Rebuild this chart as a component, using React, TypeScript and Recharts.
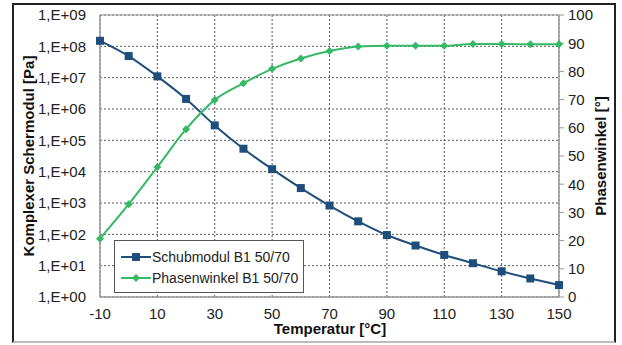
import React from 'react';
import {
  ComposedChart, Line, XAxis, YAxis, CartesianGrid, ReferenceArea,
} from 'recharts';

const temperatures = [-10, 0, 10, 20, 30, 40, 50, 60, 70, 80, 90, 100, 110, 120, 130, 140, 150];
const schubmodul = [1.5e8, 4.9e7, 1.1e7, 2.1e6, 3.0e5, 5.4e4, 1.2e4, 3.0e3, 8.3e2, 2.6e2, 95, 44, 22, 12, 6.6, 3.9, 2.4];
const phasenwinkel = [20.7, 32.9, 46.1, 59.5, 69.9, 75.8, 80.9, 84.6, 87.2, 88.8, 89.1, 89.1, 89.1, 89.7, 89.7, 89.6, 89.6];

const xTicks = [-10, 10, 30, 50, 70, 90, 110, 130, 150];
const logTicks = [1, 1e1, 1e2, 1e3, 1e4, 1e5, 1e6, 1e7, 1e8, 1e9];
const angleTicks = [0, 10, 20, 30, 40, 50, 60, 70, 80, 90, 100];

const BLUE = '#1f4e7c';
const GREEN = '#35b964';

const data = temperatures.map((t, i) => ({
  t,
  modul: schubmodul[i],
  winkel: phasenwinkel[i],
}));

const fmtLog = (v: number) => {
  const e = Math.round(Math.log10(v));
  return `1,E+${e < 10 ? '0' + e : e}`;
};

const Square = (props: any) => {
  const { cx, cy } = props;
  if (cx == null || cy == null) return null;
  return <rect x={cx - 4} y={cy - 4} width={8} height={8} fill={BLUE} />;
};

const Diamond = (props: any) => {
  const { cx, cy } = props;
  if (cx == null || cy == null) return null;
  return <polygon points={`${cx},${cy - 4} ${cx + 4},${cy} ${cx},${cy + 4} ${cx - 4},${cy}`} fill={GREEN} />;
};

const tickStyle = { fill: '#222', fontSize: 15, fontFamily: 'Liberation Sans, Arial, sans-serif' };
const titleStyle: React.CSSProperties = {
  position: 'absolute', whiteSpace: 'nowrap', fontWeight: 'bold', fontSize: 15, color: '#111', lineHeight: '16px',
};

export default function App() {
  return (
    <div style={{ position: 'fixed', left: 0, top: 0, width: 622, height: 345, background: '#fff', fontFamily: 'Liberation Sans, Arial, sans-serif' }}>
      <div style={{ position: 'absolute', left: 12, top: 3, width: 604, height: 340, border: '2px solid #222', borderBottomColor: '#bbb', boxSizing: 'border-box' }} />
      <ComposedChart width={622} height={345} data={data} margin={{ top: 15, right: 5, bottom: 20, left: 12 }}>
        <CartesianGrid yAxisId="left" stroke="#555" strokeDasharray="2 2" />
        <XAxis
          dataKey="t"
          type="number"
          domain={[-10, 150]}
          ticks={xTicks}
          tick={tickStyle}
          tickLine={false}
          axisLine={{ stroke: '#999' }}
          height={28}
          tickMargin={5}
        />
        <YAxis
          yAxisId="left"
          scale="log"
          domain={[1, 1e9]}
          ticks={logTicks}
          tickFormatter={fmtLog}
          tick={tickStyle}
          tickLine={false}
          tickMargin={8}
          axisLine={{ stroke: '#999' }}
          width={88}
          allowDataOverflow
        />
        <YAxis
          yAxisId="right"
          orientation="right"
          domain={[0, 100]}
          ticks={angleTicks}
          tick={tickStyle}
          tickLine={{ stroke: '#999' }}
          tickSize={5}
          tickMargin={4}
          axisLine={{ stroke: '#999' }}
          width={58}
        />
        <ReferenceArea yAxisId="left" x1={-10} x2={150} y1={1} y2={1e9} fill="none" stroke="#999" strokeWidth={1} />
        <Line
          yAxisId="left"
          dataKey="modul"
          type="monotone"
          stroke={BLUE}
          strokeWidth={2}
          dot={<Square />}
          activeDot={false}
          isAnimationActive={false}
        />
        <Line
          yAxisId="right"
          dataKey="winkel"
          type="monotone"
          stroke={GREEN}
          strokeWidth={2}
          dot={<Diamond />}
          activeDot={false}
          isAnimationActive={false}
        />
      </ComposedChart>
      <div style={{ ...titleStyle, left: 29, top: 156, transform: 'translate(-50%, -50%) rotate(-90deg)' }}>
        Komplexer Schermodul [Pa]
      </div>
      <div style={{ ...titleStyle, left: 601, top: 156, transform: 'translate(-50%, -50%) rotate(-90deg)' }}>
        Phasenwinkel [°]
      </div>
      <div style={{ ...titleStyle, left: 330, top: 329, transform: 'translate(-50%, -50%)' }}>
        Temperatur [°C]
      </div>
      <div style={{ position: 'absolute', left: 114, top: 240, width: 190, height: 53, boxSizing: 'border-box', border: '1px solid #555', background: '#fff', fontSize: 14, color: '#222', padding: '5px 0 0 6px', whiteSpace: 'nowrap' }}>
        <div style={{ display: 'flex', alignItems: 'center', height: 21 }}>
          <svg width={30} height={10} style={{ flexShrink: 0 }}>
            <line x1={0} y1={5} x2={30} y2={5} stroke={BLUE} strokeWidth={2} />
            <rect x={11} y={1} width={8} height={8} fill={BLUE} />
          </svg>
          <span style={{ marginLeft: 1 }}>Schubmodul B1 50/70</span>
        </div>
        <div style={{ display: 'flex', alignItems: 'center', height: 21 }}>
          <svg width={30} height={10} style={{ flexShrink: 0 }}>
            <line x1={0} y1={5} x2={30} y2={5} stroke={GREEN} strokeWidth={2} />
            <polygon points="15,1 19,5 15,9 11,5" fill={GREEN} />
          </svg>
          <span style={{ marginLeft: 1 }}>Phasenwinkel B1 50/70</span>
        </div>
      </div>
    </div>
  );
}
